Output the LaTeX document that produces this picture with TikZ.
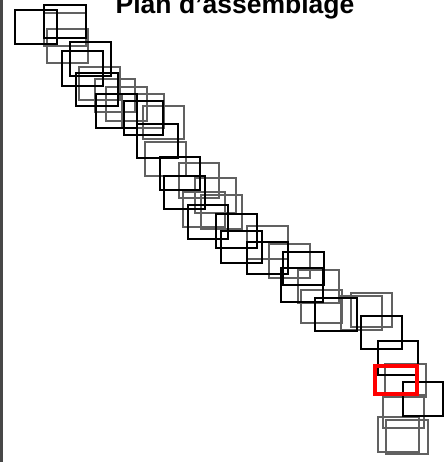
\documentclass[tikz,border=0pt]{standalone}
\usepackage{fontspec}
\setmainfont{Liberation Sans}
\begin{document}
\begin{tikzpicture}[x=1pt,y=-1pt,
  darkbox/.style={draw=black, line width=1.1pt},
  greybox/.style={draw=black!62, line width=1.5pt},
  redbox/.style={draw=red, line width=3.5pt}]
\useasboundingbox (0,0) rectangle (445,462);
\fill[white] (0,0) rectangle (445,462);
\fill[black!72] (0,0) rectangle (3,462);
% grey boxes
\foreach \a/\b/\c/\d in {
  44/13/86/46, 47/29/88/63, 79/67/120/100, 95/79/135/112, 106/87/147/121,
  122/94/164/128, 143/106/184/139, 145/142/186/176, 179/163/219/198,
  195/178/236/213, 183/192/225/227, 201/195/242/229, 247/226/288/259,
  269/244/310/278, 298/270/339/303, 301/290/342/323, 341/296/382/330,
  351/293/392/327, 385/364/426/397, 383/395/424/428, 378/417/419/452,
  386/420/428/454}
  \draw[greybox] (\a,\b) rectangle (\c,\d);
% dark boxes
\foreach \a/\b/\c/\d in {
  15/10/57/44, 44/5/86/38, 70/42/111/76, 62/51/103/86, 76/73/118/106,
  96/94/137/128, 124/101/163/135, 137/124/178/158, 160/157/200/190,
  164/176/205/209, 188/205/228/239, 216/214/257/248, 221/231/262/263,
  247/242/288/274, 283/252/324/285, 281/268/323/302, 315/298/357/331,
  361/316/402/349, 378/341/418/375, 403/382/443/416}
  \draw[darkbox] (\a,\b) rectangle (\c,\d);
% highlighted box
\draw[redbox] (375,366) rectangle (417,394);
% title
\node[anchor=base, inner sep=0pt, font=\fontsize{26.5}{30}\selectfont\bfseries] (title) at (235,14) {Plan d'assemblage};
\end{tikzpicture}
\end{document}
